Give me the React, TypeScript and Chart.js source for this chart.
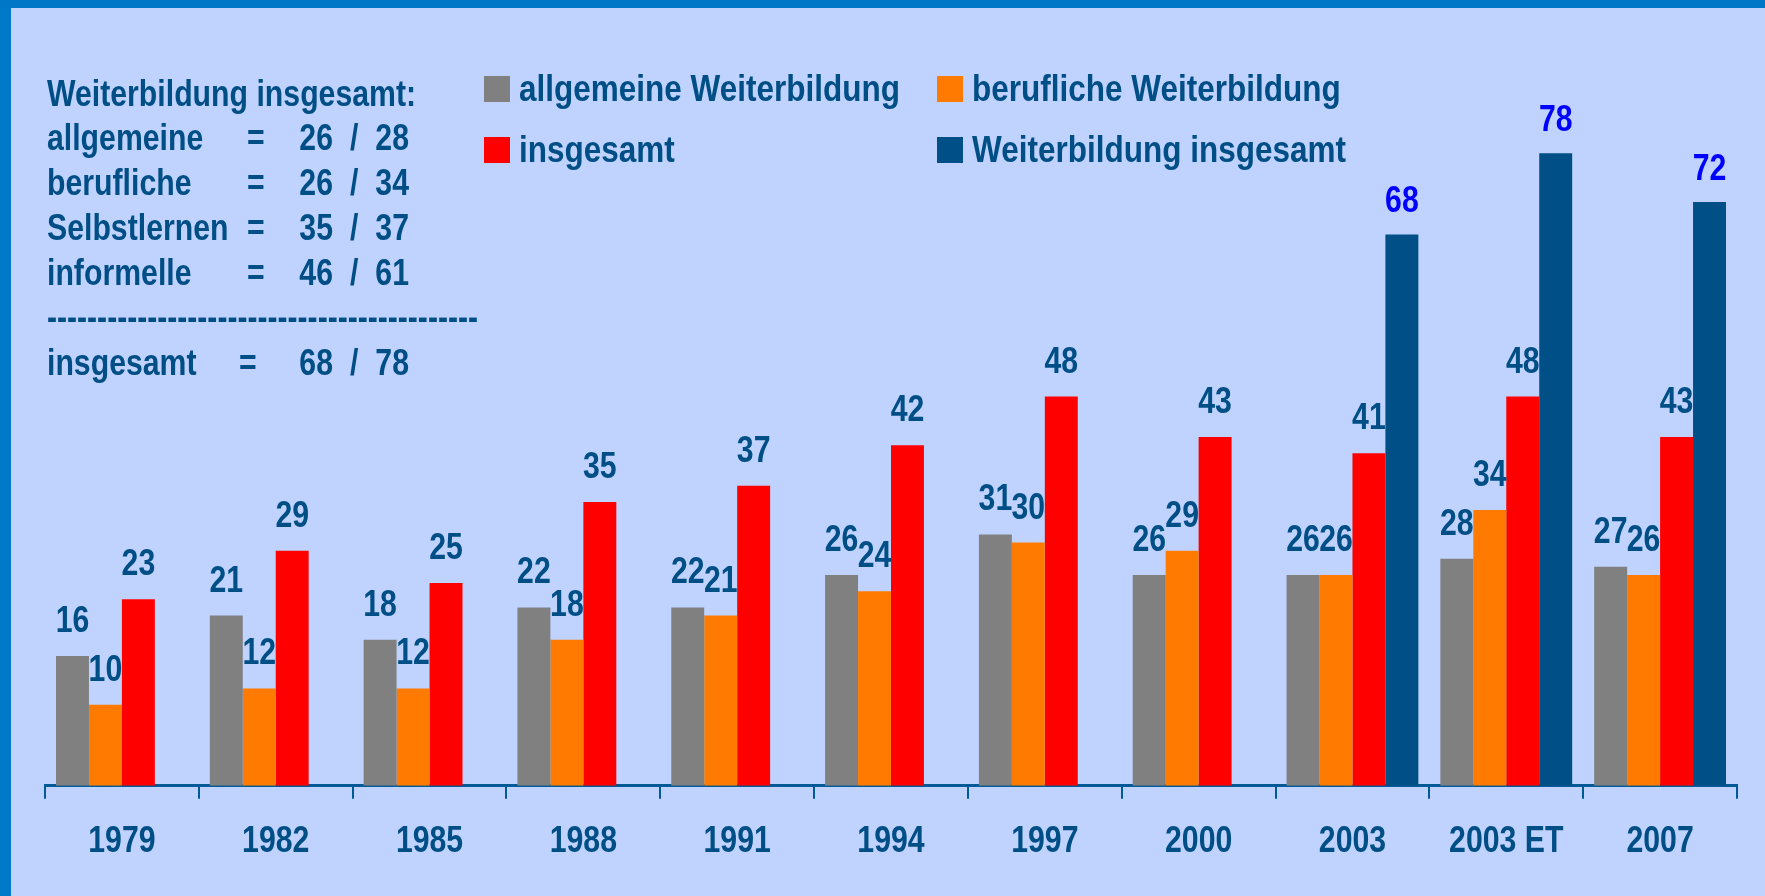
import React, { useEffect, useRef } from "react";
import { Chart, registerables } from "chart.js";

Chart.register(...registerables);

const categories = ["1979", "1982", "1985", "1988", "1991", "1994", "1997", "2000", "2003", "2003 ET", "2007"];
const allgemeine = [16, 21, 18, 22, 22, 26, 31, 26, 26, 28, 27];
const berufliche = [10, 12, 12, 18, 21, 24, 30, 29, 26, 34, 26];
const insgesamt = [23, 29, 25, 35, 37, 42, 48, 43, 41, 48, 43];
const wbInsgesamt = [null, null, null, null, null, null, null, null, 68, 78, 72];

const seriesLabels = ["allgemeine Weiterbildung", "berufliche Weiterbildung", "insgesamt", "Weiterbildung insgesamt"];
const seriesColors = ["#808080", "#FF7A00", "#FF0000", "#005087"];

const summaryTitle = "Weiterbildung insgesamt:";
const summaryLabels = ["allgemeine", "berufliche", "Selbstlernen", "informelle"];
const summary2003 = [26, 26, 35, 46];
const summary2003ET = [28, 34, 37, 61];
const totalLabel = "insgesamt";
const total2003 = 68;
const total2003ET = 78;

const FONT = '"Liberation Sans", Arial, sans-serif';
const NARROW = 0.84;
const TEXT = "#004E86";
const BG = "#BFD3FE";
const FRAME = "#0078C8";

function narrowText(ctx: any) {
  if (ctx.__narrowed) return;
  ctx.__narrowed = true;
  const orig = ctx.fillText;
  ctx.fillText = function (text: string, x: number, y: number, maxWidth?: number) {
    if (String(this.font).includes("Liberation Sans")) {
      const f = this.__narrow || NARROW;
      this.save();
      this.translate(x, y);
      this.scale(f, 1);
      if (maxWidth !== undefined) orig.call(this, text, 0, 0, maxWidth / f);
      else orig.call(this, text, 0, 0);
      this.restore();
    } else if (maxWidth !== undefined) orig.call(this, text, x, y, maxWidth);
    else orig.call(this, text, x, y);
  };
}

const decorPlugin = {
  id: "decor",
  beforeDraw(chart: any) {
    const ctx = chart.ctx;
    narrowText(ctx);
    ctx.save();
    ctx.fillStyle = BG;
    ctx.fillRect(0, 0, chart.width, chart.height);
    ctx.fillStyle = FRAME;
    ctx.fillRect(0, 0, chart.width, 8);
    ctx.fillRect(0, 0, 11, chart.height);
    ctx.restore();
  },
  afterDraw(chart: any) {
    const ctx = chart.ctx;
    ctx.save();
    ctx.fillStyle = TEXT;
    ctx.font = `bold 36px ${FONT}`;
    ctx.textBaseline = "alphabetic";
    ctx.textAlign = "left";
    ctx.fillText(summaryTitle, 47, 106);
    const rowsY = [150, 195, 240, 285];
    summaryLabels.forEach((lab, i) => {
      const y = rowsY[i];
      ctx.textAlign = "left";
      ctx.fillText(lab, 47, y);
      ctx.fillText("=", 247, y);
      ctx.textAlign = "right";
      ctx.fillText(String(summary2003[i]), 333, y);
      ctx.textAlign = "left";
      ctx.fillText("/", 350, y);
      ctx.textAlign = "right";
      ctx.fillText(String(summary2003ET[i]), 409, y);
    });
    ctx.textAlign = "left";
    ctx.fillText("-".repeat(43), 47, 329, 431);
    const ty = 375;
    ctx.fillText(totalLabel, 47, ty);
    ctx.fillText("=", 239, ty);
    ctx.textAlign = "right";
    ctx.fillText(String(total2003), 333, ty);
    ctx.textAlign = "left";
    ctx.fillText("/", 350, ty);
    ctx.textAlign = "right";
    ctx.fillText(String(total2003ET), 409, ty);

    // legend
    const legendPos = [
      [484, 89],
      [937, 89],
      [484, 150],
      [937, 150],
    ];
    ctx.__narrow = 0.875;
    chart.data.datasets.forEach((ds: any, i: number) => {
      const [x, y] = legendPos[i];
      ctx.fillStyle = ds.backgroundColor;
      ctx.fillRect(x, y - 13, 26, 26);
      ctx.fillStyle = TEXT;
      ctx.textAlign = "left";
      ctx.textBaseline = "alphabetic";
      ctx.fillText(ds.label, x + 35, y + 12);
    });
    ctx.__narrow = undefined;
    ctx.restore();
  },
  afterDatasetsDraw(chart: any) {
    const ctx = chart.ctx;
    ctx.save();
    ctx.font = `bold 36px ${FONT}`;
    ctx.textAlign = "center";
    ctx.textBaseline = "alphabetic";
    chart.data.datasets.forEach((ds: any, di: number) => {
      const meta = chart.getDatasetMeta(di);
      meta.data.forEach((el: any, i: number) => {
        const v = ds.data[i];
        if (v === null || v === undefined) return;
        ctx.fillStyle = di === 3 ? "#0000FF" : TEXT;
        ctx.fillText(String(v), el.x, el.y - (di === 3 ? 22 : 24));
      });
    });
    ctx.restore();
  },
};

export default function App() {
  const ref = useRef<HTMLCanvasElement | null>(null);
  useEffect(() => {
    document.body.style.margin = "0";
    if (!ref.current) return;
    const chart = new Chart(ref.current, {
      type: "bar",
      data: {
        labels: categories,
        datasets: [
          { label: seriesLabels[0], data: allgemeine, backgroundColor: seriesColors[0] },
          { label: seriesLabels[1], data: berufliche, backgroundColor: seriesColors[1] },
          { label: seriesLabels[2], data: insgesamt, backgroundColor: seriesColors[2] },
          { label: seriesLabels[3], data: wbInsgesamt as any, backgroundColor: seriesColors[3] },
        ],
      },
      options: {
        animation: false,
        responsive: true,
        maintainAspectRatio: false,
        layout: { padding: { left: 45, right: 28, top: 56, bottom: 10 } },
        datasets: { bar: { categoryPercentage: 0.857, barPercentage: 1 } } as any,
        plugins: { legend: { display: false }, tooltip: { enabled: false } },
        scales: {
          x: {
            grid: { drawOnChartArea: false, drawTicks: true, tickLength: 13, color: "#005A96", lineWidth: 2, offset: true },
            border: { display: true, color: "#005A96", width: 3 },
            ticks: { color: TEXT, font: { family: FONT, size: 36, weight: "bold" }, padding: 22, maxRotation: 0, autoSkip: false },
          },
          y: { display: false, min: 0, max: 90 },
        },
      },
      plugins: [decorPlugin],
    });
    return () => chart.destroy();
  }, []);
  return (
    <div style={{ position: "absolute", left: 0, top: 0, width: 1765, height: 896 }}>
      <canvas ref={ref} />
    </div>
  );
}
